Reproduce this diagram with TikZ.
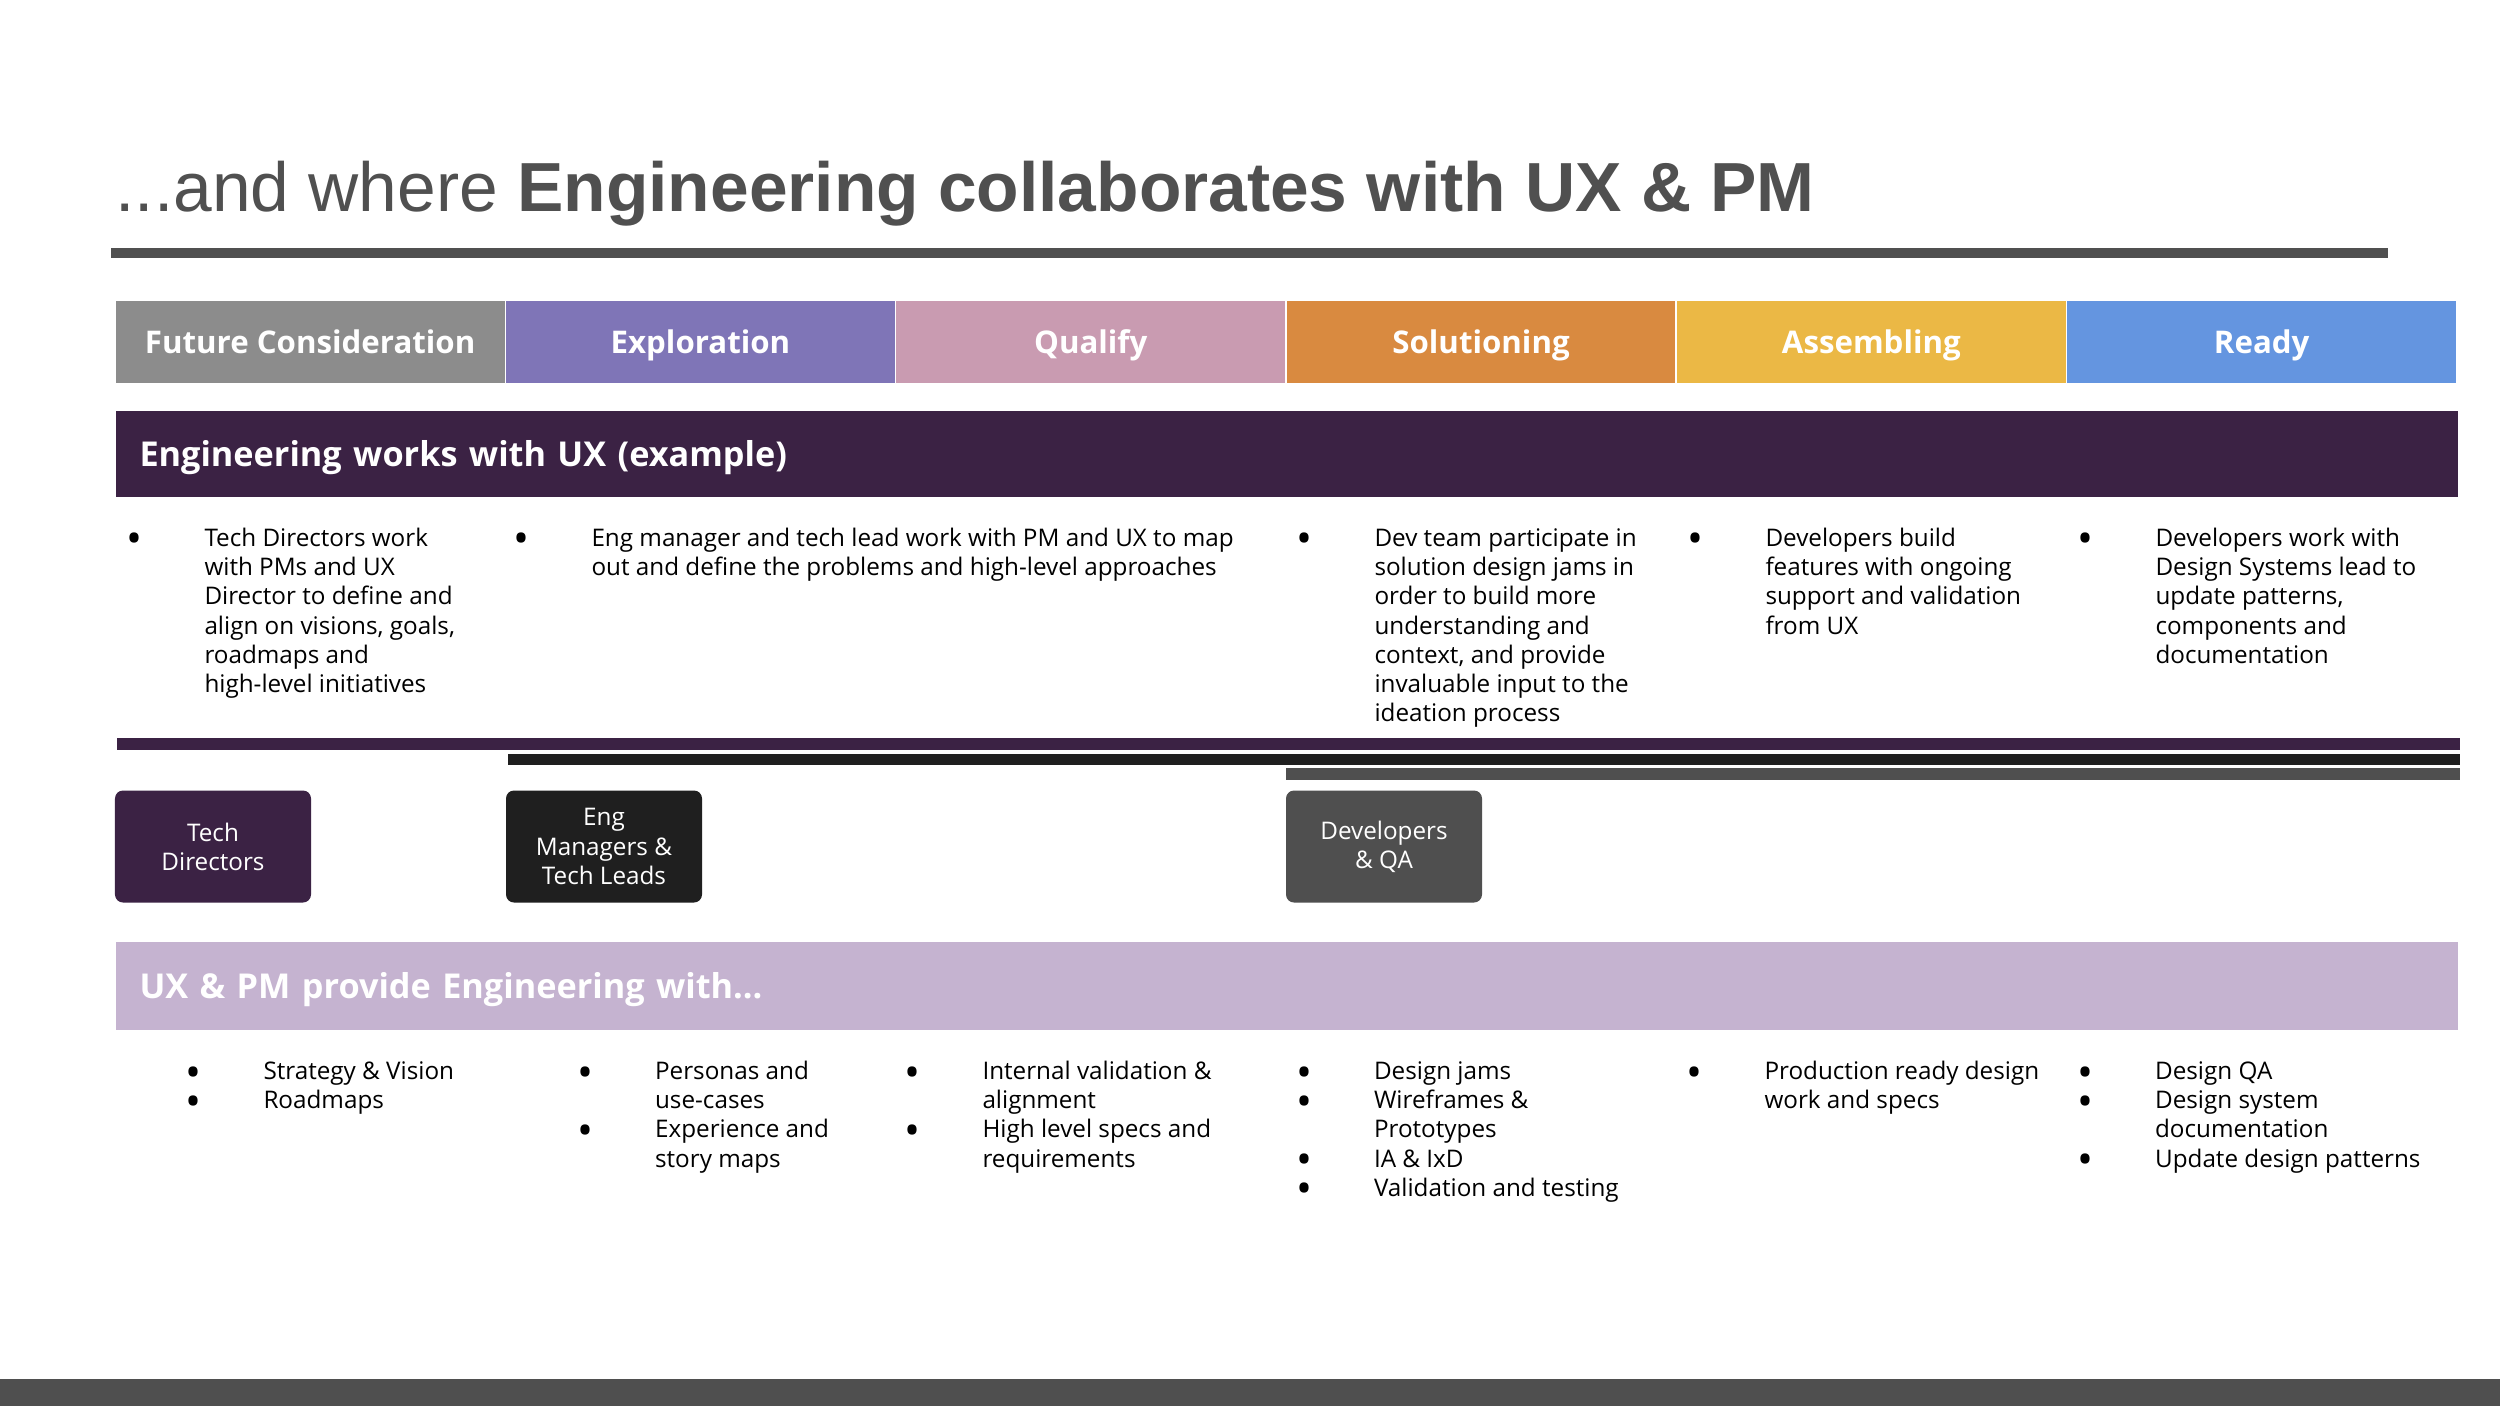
\documentclass[tikz,border=0pt]{standalone}
\usepackage{fontspec}
\setmainfont{Open Sans}
\newfontfamily\titlefont{Liberation Sans}
\definecolor{phA}{HTML}{8C8C8C}
\definecolor{phB}{HTML}{7F75B7}
\definecolor{phC}{HTML}{C99BB1}
\definecolor{phD}{HTML}{D98A40}
\definecolor{phE}{HTML}{EBB845}
\definecolor{phF}{HTML}{6495E0}
\definecolor{dpurple}{HTML}{3B2244}
\definecolor{lilac}{HTML}{C5B3D0}
\definecolor{nearblack}{HTML}{1F1F1F}
\definecolor{dgray}{HTML}{4F4F4F}
\definecolor{titlegray}{HTML}{505050}
\newcommand\bl{\llap{\makebox[0pt][c]{\raisebox{-3pt}[0pt][0pt]{\fontsize{17}{17}\selectfont •}}\kern28pt}}
\begin{document}
\begin{tikzpicture}[x=0.4pt,y=-0.4pt,
  phase/.style={minimum width=156.12pt, minimum height=33.6pt, inner sep=0pt, text height=9pt, text depth=0pt, draw=white, line width=0.6pt, text=white, font=\fontsize{12.5}{15}\selectfont\bfseries},
  band/.style={anchor=west, minimum width=936.8pt, text width=917.6pt, text height=10.2pt, text depth=0pt, inner xsep=9.6pt, inner ysep=0pt, align=left, text=white, font=\fontsize{13.7}{16}\selectfont\bfseries},
  role/.style={rounded corners=3.2pt, minimum width=78.4pt, minimum height=44.8pt, inner sep=0pt, text=white, align=center, font=\fontsize{9.7}{11.68}\selectfont},
  item/.style={anchor=north west, inner sep=0pt, align=left, text=black, font=\fontsize{9.7}{11.68}\selectfont}
]
\useasboundingbox[fill=white] (0,0) rectangle (2500,1406);
% title
\node[anchor=base west, inner sep=0pt, text=titlegray, font=\titlefont\fontsize{27.8}{32}\selectfont] (title) at (115,211) {...and where \textbf{Engineering collaborates with UX \& PM}};
\fill[titlegray] (111,248) rectangle (2388,258);
% phases
\node[phase, fill=phA] (p1) at (310.15,342) {Future Consideration};
\node[phase, fill=phB] (p2) at (700.45,342) {Exploration};
\node[phase, fill=phC] (p3) at (1090.75,342) {Qualify};
\node[phase, fill=phD] (p4) at (1481.05,342) {Solutioning};
\node[phase, fill=phE] (p5) at (1871.35,342) {Assembling};
\node[phase, fill=phF] (p6) at (2261.65,342) {Ready};
% band 1
\node[band, fill=dpurple, minimum height=34.4pt] (b1) at (115,454) {Engineering works with UX (example)};
% top items
\node[item] (t1) at (204,525.5) {\strut\bl Tech Directors work\\with PMs and UX\\Director to define and\\align on visions, goals,\\roadmaps and\\high-level initiatives};
\node[item] (t2) at (591,525.5) {\strut\bl Eng manager and tech lead work with PM and UX to map\\out and define the problems and high-level approaches};
\node[item] (t4) at (1374,525.5) {\strut\bl Dev team participate in\\solution design jams in\\order to build more\\understanding and\\context, and provide\\invaluable input to the\\ideation process};
\node[item] (t5) at (1765,525.5) {\strut\bl Developers build\\features with ongoing\\support and validation\\from UX};
\node[item] (t6) at (2155,525.5) {\strut\bl Developers work with\\Design Systems lead to\\update patterns,\\components and\\documentation};
% bars
\fill[dpurple] (117,738) rectangle (2460,750);
\fill[nearblack] (508,754) rectangle (2460,765);
\fill[dgray] (1286,768) rectangle (2460,780);
% roles
\node[role, fill=dpurple] (r1) at (213,846.5) {Tech\\Directors};
\node[role, fill=nearblack] (r2) at (604,846.5) {Eng\\Managers \&\\Tech Leads};
\node[role, fill=dgray] (r3) at (1384,846.5) {Developers\\\& QA};
% band 2
\node[band, fill=lilac, minimum height=35.2pt] (b2) at (115,986) {UX \& PM provide Engineering with...};
% bottom items
\node[item] (u1) at (263,1058.6) {\strut\bl Strategy \& Vision\\\bl Roadmaps};
\node[item] (u2) at (654.6,1058.6) {\strut\bl Personas and\\use-cases\\\bl Experience and\\story maps};
\node[item] (u3) at (982,1058.6) {\strut\bl Internal validation \&\\alignment\\\bl High level specs and\\requirements};
\node[item] (u4) at (1373.5,1058.6) {\strut\bl Design jams\\\bl Wireframes \&\\Prototypes\\\bl IA \& IxD\\\bl Validation and testing};
\node[item] (u5) at (1764,1058.6) {\strut\bl Production ready design\\work and specs};
\node[item] (u6) at (2154.6,1058.6) {\strut\bl Design QA\\\bl Design system\\documentation\\\bl Update design patterns};
% footer
\fill[dgray] (0,1379) rectangle (2500,1406);
\end{tikzpicture}
\end{document}
